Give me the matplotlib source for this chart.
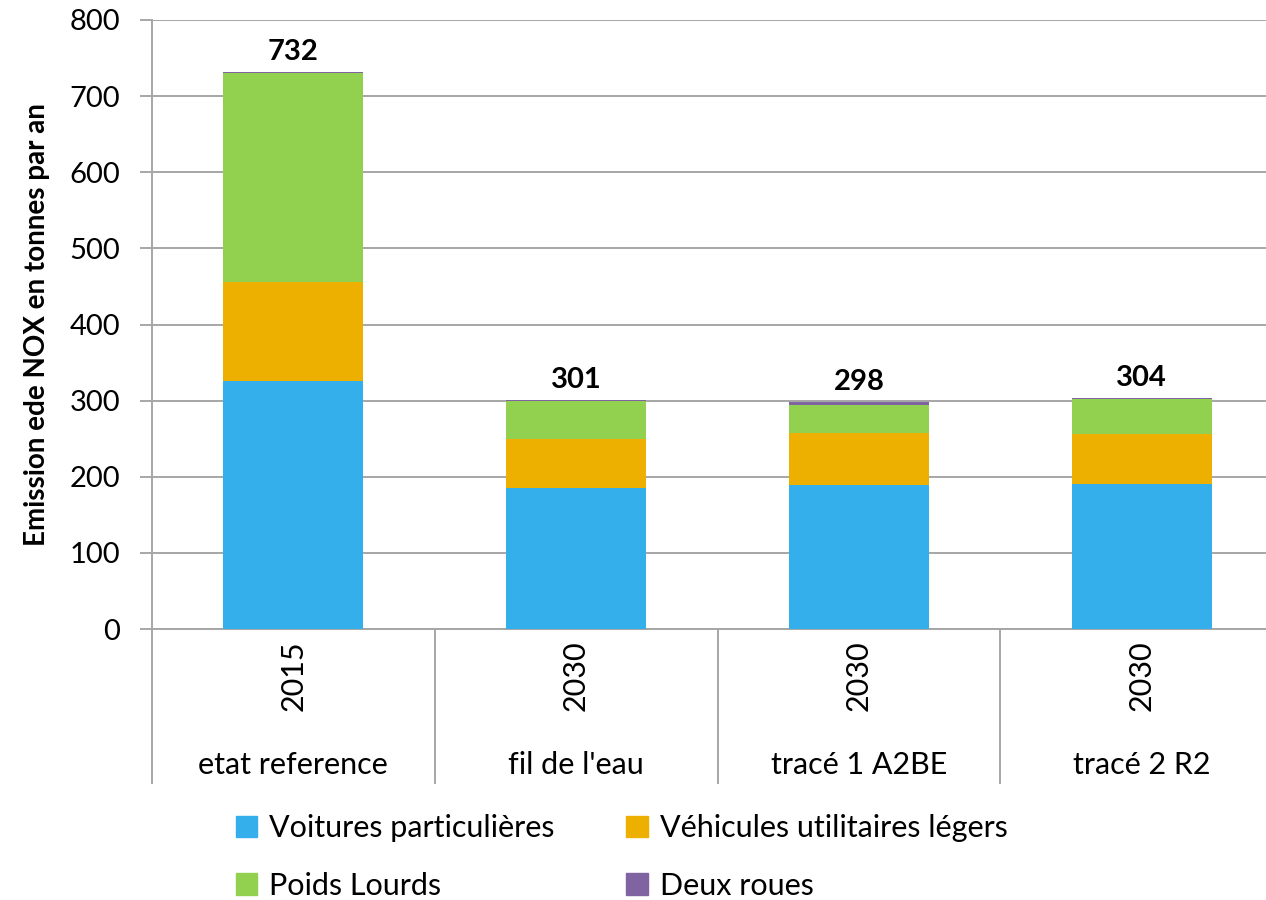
import matplotlib.pyplot as plt
import matplotlib.transforms as mtransforms
from matplotlib.patches import Patch
import numpy as np

plt.rcParams['font.family'] = ['Lato', 'DejaVu Sans']

annees = ['2015', '2030', '2030', '2030']
scenarios = ['etat reference', "fil de l'eau", 'tracé 1 A2BE', 'tracé 2 R2']
voitures = [326, 185, 189, 190]
utilitaires = [130, 64, 69, 66]
poids_lourds = [274, 51, 36, 46]
deux_roues = [2, 1, 4, 2]
totaux = [732, 301, 298, 304]

series = ['Voitures particulières', 'Véhicules utilitaires légers', 'Poids Lourds', 'Deux roues']
couleurs = ['#35AFEC', '#EDB000', '#92D050', '#8064A2']

fig = plt.figure(figsize=(12.66, 9), dpi=100)
ax = fig.add_axes([152 / 1266, 271 / 900, 1131 / 1266, 609 / 900])

x = np.arange(len(annees))
bas = np.zeros(len(annees))
for vals, coul in zip([voitures, utilitaires, poids_lourds, deux_roues], couleurs):
    ax.bar(x, vals, bottom=bas, width=0.495, color=coul, zorder=3)
    bas += np.array(vals)

for i, t in enumerate(totaux):
    ax.annotate(str(t), (x[i], bas[i]), xytext=(0, 5), textcoords='offset points',
                ha='center', va='bottom', fontsize=21, fontweight='bold')

ax.set_ylim(0, 800)
ax.set_xlim(-0.5, len(annees) - 0.5)
ax.set_yticks(range(0, 801, 100))
ax.tick_params(axis='y', labelsize=21, length=9, color='#a0a0a0', width=1.3, pad=14)
ax.set_xticks([])
ax.yaxis.grid(True, color='#a6a6a6', linewidth=1.4, zorder=0)
for s in ['top', 'right']:
    ax.spines[s].set_visible(False)
for s in ['left', 'bottom']:
    ax.spines[s].set_color('#a6a6a6')
    ax.spines[s].set_linewidth(1.4)
ax.set_ylabel('Emission ede NOX en tonnes par an', fontsize=20, fontweight='bold', labelpad=14)

trans = mtransforms.blended_transform_factory(ax.transData, ax.transAxes)
for b in np.arange(-0.5, len(annees) - 0.4, 1.0):
    ax.plot([b, b], [0, -0.253], transform=trans, color='#a6a6a6', linewidth=1.4, clip_on=False)
for i in range(len(annees)):
    ax.text(x[i], -0.077, annees[i], transform=trans, rotation=90, ha='center', va='center', fontsize=22)
    ax.text(x[i], -0.224, scenarios[i], transform=trans, ha='center', va='center', fontsize=22)

# ordre ligne par ligne comme dans la légende d'origine
ordre = [0, 2, 1, 3]
handles = [Patch(color=couleurs[k], label=series[k]) for k in ordre]
fig.legend(handles=handles, ncol=2, loc='center left', bbox_to_anchor=(208 / 1266, 1 - 857 / 900),
           frameon=False, fontsize=22, handlelength=0.7, handleheight=0.7, handletextpad=0.4,
           columnspacing=2.35, labelspacing=0.95)

fig.savefig('out.png', dpi=100)
